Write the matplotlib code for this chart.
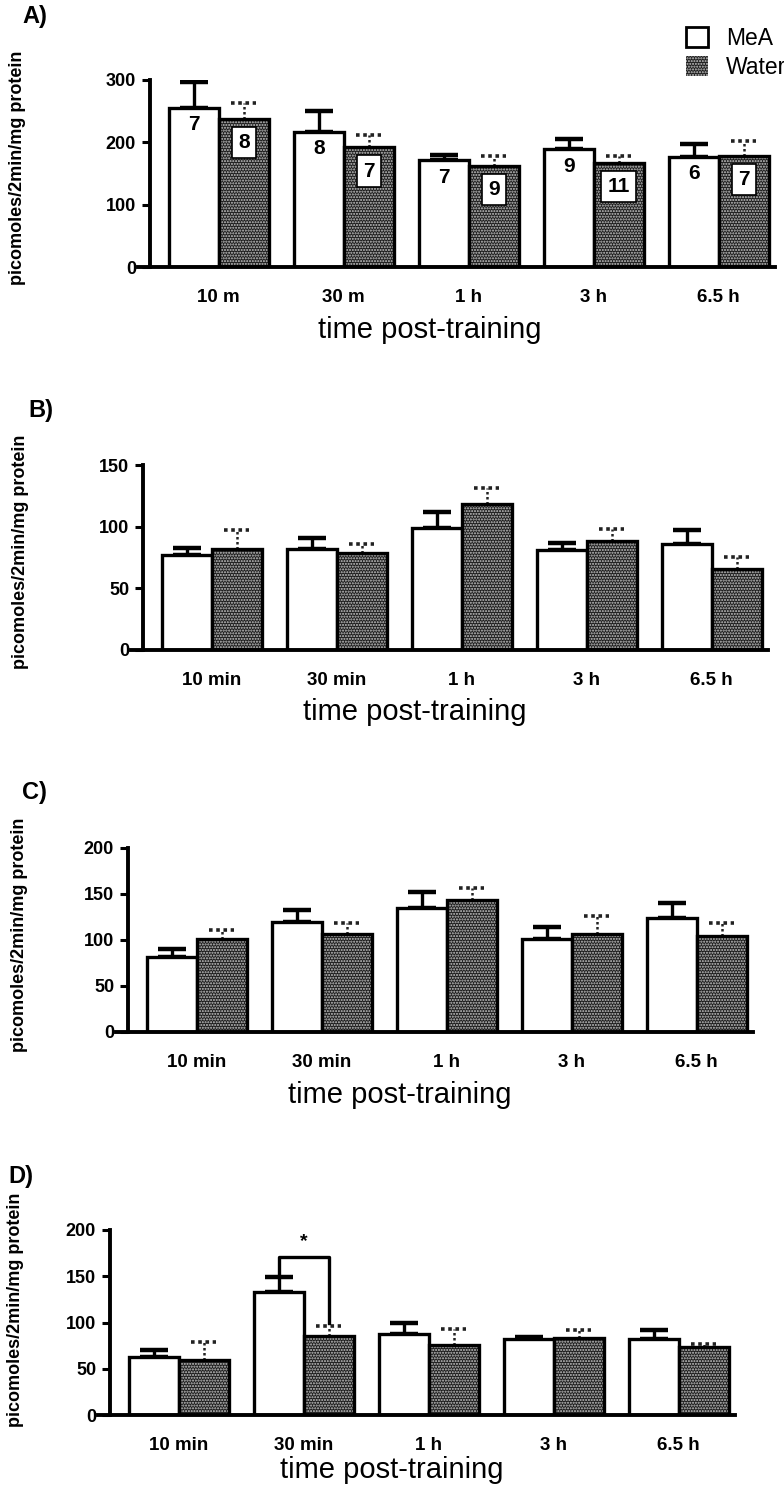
import matplotlib
matplotlib.use('Agg')
import matplotlib.pyplot as plt
from matplotlib.patches import Patch
import numpy as np

plt.rcParams['font.family'] = ['Liberation Sans', 'DejaVu Sans']
plt.rcParams['hatch.linewidth'] = 1.0

# ---------------- data ----------------
labels_A = ["10 m", "30 m", "1 h", "3 h", "6.5 h"]
labels_BCD = ["10 min", "30 min", "1 h", "3 h", "6.5 h"]

A_mea = [255, 217, 171, 189, 177]
A_mea_err = [41, 33, 9, 17, 21]
A_water = [238, 192, 162, 167, 178]
A_water_err = [25, 19, 16, 11, 24]
A_n_mea = [7, 8, 7, 9, 6]
A_n_water = [8, 7, 9, 11, 7]

B_mea = [77, 82, 99, 81, 86]
B_mea_err = [6, 9, 13, 6, 11]
B_water = [82, 79, 118, 88, 66]
B_water_err = [15, 7, 13, 10, 9]

C_mea = [81, 120, 135, 101, 124]
C_mea_err = [9, 13, 17, 13, 16]
C_water = [101, 106, 144, 107, 104]
C_water_err = [10, 12, 12, 19, 14]

D_mea = [63, 133, 88, 82, 82]
D_mea_err = [7, 16, 11, 2, 10]
D_water = [59, 85, 76, 83, 74]
D_water_err = [20, 11, 17, 9, 3]

A_ticks = [0, 100, 200, 300]
B_ticks = [0, 50, 100, 150]
C_ticks = [0, 50, 100, 150, 200]
D_ticks = [0, 50, 100, 150, 200]

ylabel = "picomoles/2min/mg protein"
xlabel = "time post-training"

W, H = 784, 1497
fig = plt.figure(figsize=(W / 100, H / 100), dpi=100)

WATER_FACE = '#1e1e1e'
WATER_HATCH = '#c8c8c8'


def make_axes(x0_px, y0_px, ytop_px):
    unit = 125.0
    left = x0_px - 0.10 * unit
    width = 5.10 * unit
    return fig.add_axes([left / W, (H - y0_px) / H, width / W, (y0_px - ytop_px) / H])


def panel(ax, labels, mea, mea_err, water, water_err, yticks, ylab_xy, xlab_xy):
    x = np.arange(len(labels))
    w = 0.4
    mea = np.array(mea, float)
    water = np.array(water, float)
    mea_err = np.array(mea_err, float)
    water_err = np.array(water_err, float)
    ax.errorbar(x - w / 2, mea, yerr=[np.zeros_like(mea), mea_err], fmt='none',
                ecolor='black', elinewidth=2.4, capsize=10, capthick=3.2, zorder=1)
    ax.vlines(x + w / 2, water, water + water_err, colors='#222222',
              linestyles=(0, (1, 1)), lw=1.8, zorder=1)
    ax.hlines(water + water_err, x + w / 2 - 0.1, x + w / 2 + 0.1, colors='#222222',
              linestyles=(0, (1, 1)), lw=2.6, zorder=1)
    ax.bar(x - w / 2, mea, w, color='white', edgecolor='black', lw=2.4, zorder=2)
    ax.bar(x + w / 2, water, w, color=WATER_FACE, edgecolor=WATER_HATCH,
           hatch='......', lw=0, zorder=2)
    ax.bar(x + w / 2, water, w, fill=False, edgecolor='black', lw=2.4, zorder=3)

    ax.set_xlim(-0.65, 4.45)
    ax.set_ylim(0, yticks[-1])
    ax.spines['left'].set_position(('data', -0.55))
    for s in ['top', 'right']:
        ax.spines[s].set_visible(False)
    for s in ['left', 'bottom']:
        ax.spines[s].set_linewidth(2.8)
    ax.set_yticks(yticks)
    ax.set_xticks(x)
    ax.set_xticklabels(labels)
    ax.tick_params(axis='y', direction='out', length=6, width=2.2, labelsize=13, pad=4)
    ax.tick_params(axis='x', length=0, labelsize=13.5, pad=16)
    for t in ax.get_xticklabels() + ax.get_yticklabels():
        t.set_fontweight('bold')
    ax.set_xlabel(xlabel, fontsize=21)
    ax.xaxis.set_label_coords(xlab_xy[0] / W, 1 - xlab_xy[1] / H, transform=fig.transFigure)
    ax.xaxis.label.set_va('center')
    ax.set_ylabel(ylabel, fontsize=13, family=['Liberation Sans Narrow', 'Liberation Sans'],
                  fontweight='bold')
    ax.yaxis.set_label_coords(ylab_xy[0] / W, 1 - ylab_xy[1] / H, transform=fig.transFigure)
    ax.yaxis.label.set_va('center')
    return x, w


# Panel A
axA = make_axes(150, 267, 80)
x, w = panel(axA, labels_A, A_mea, A_mea_err, A_water, A_water_err, A_ticks,
             (18, 168), (430, 330))
for xi, v, n in zip(x, A_mea, A_n_mea):
    axA.text(xi - w / 2, v - 27, str(n), ha='center', va='center', fontsize=15,
             fontweight='bold', zorder=5)
for xi, v, n in zip(x, A_water, A_n_water):
    axA.text(xi + w / 2, v - 38, str(n), ha='center', va='center', fontsize=15,
             fontweight='bold', zorder=5,
             bbox=dict(boxstyle='square,pad=0.3', fc='white', ec='black', lw=1.2))
axA.legend(handles=[Patch(facecolor='white', edgecolor='black', lw=2.0, label='MeA'),
                    Patch(facecolor=WATER_FACE, edgecolor=WATER_HATCH, hatch='......',
                          lw=0, label='Water')],
           loc='upper left', bbox_to_anchor=(686 / W, 1 - 27 / H),
           bbox_transform=fig.transFigure, frameon=False, fontsize=16.5,
           handlelength=0.95, handleheight=0.95, handletextpad=0.8, labelspacing=0.25,
           borderaxespad=0, borderpad=0)
fig.text(22 / W, 1 - 16 / H, "A)", fontsize=17, fontweight='bold', va='center')

# Panel B
axB = make_axes(143, 650, 465)
panel(axB, labels_BCD, B_mea, B_mea_err, B_water, B_water_err, B_ticks,
      (21, 552), (415, 712))
fig.text(28 / W, 1 - 410 / H, "B)", fontsize=17, fontweight='bold', va='center')

# Panel C
axC = make_axes(128, 1032, 848)
panel(axC, labels_BCD, C_mea, C_mea_err, C_water, C_water_err, C_ticks,
      (20, 935), (400, 1095))
fig.text(22 / W, 1 - 793 / H, "C)", fontsize=17, fontweight='bold', va='center')

# Panel D
axD = make_axes(110, 1415, 1230)
x, w = panel(axD, labels_BCD, D_mea, D_mea_err, D_water, D_water_err, D_ticks,
             (16, 1310), (392, 1470))
i = 1
yl = D_mea[i] + D_mea_err[i] + 4
yr = D_water[i] + D_water_err[i] + 3
ytop = 171
axD.plot([x[i] - w / 2, x[i] - w / 2, x[i] + w / 2, x[i] + w / 2],
         [yl, ytop, ytop, yr], color='black', lw=2.4, clip_on=False, zorder=4)
axD.text(x[i], ytop + 17, "*", ha='center', va='center', fontsize=14, fontweight='bold')
fig.text(8 / W, 1 - 1176 / H, "D)", fontsize=17, fontweight='bold', va='center')

fig.savefig('out.png', dpi=100, facecolor='white')
